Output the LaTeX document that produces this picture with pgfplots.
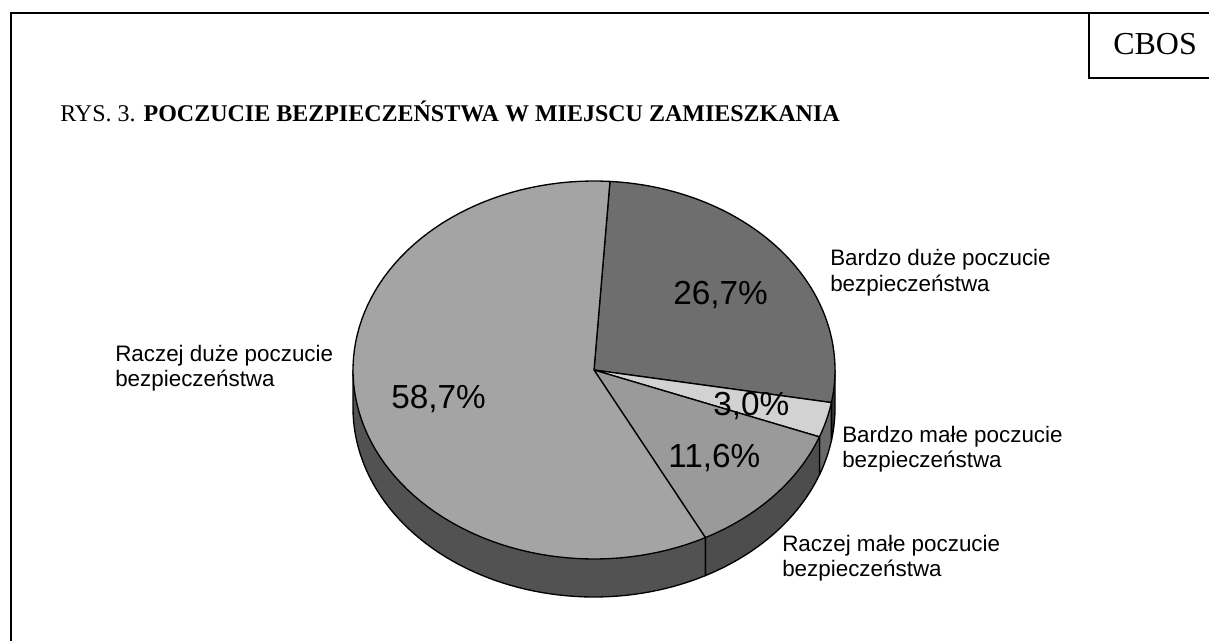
\documentclass[border=0pt]{standalone}
\usepackage{fontspec}
\setmainfont{Liberation Serif}
\newfontfamily\arialfont{Liberation Sans}
\usepackage{pgfplots}
\usepackage{pgfplotstable}
\pgfplotsset{compat=1.18}

% shares in percent, clockwise from the first slice
\pgfplotstableread{
share
26.7
3.0
11.6
58.7
}\piedata

\definecolor{topA}{HTML}{6E6E6E}
\definecolor{topB}{HTML}{D2D2D2}
\definecolor{topC}{HTML}{9A9A9A}
\definecolor{topD}{HTML}{A4A4A4}
\definecolor{sideA}{HTML}{373737}
\definecolor{sideB}{HTML}{696969}
\definecolor{sideC}{HTML}{4D4D4D}
\definecolor{sideD}{HTML}{525252}

% picture in pixel units of the reference: 1 px = 0.75 pt
\def\cx{594}\def\cy{370}\def\rx{241}\def\ry{189}\def\depth{38}

% cumulative angles, clockwise from twelve o'clock
\pgfmathsetmacro{\angO}{3.8}
\pgfplotstablegetelem{0}{share}\of\piedata
\pgfmathsetmacro{\angA}{\angO+3.6*\pgfplotsretval}
\pgfplotstablegetelem{1}{share}\of\piedata
\pgfmathsetmacro{\angB}{\angA+3.6*\pgfplotsretval}
\pgfplotstablegetelem{2}{share}\of\piedata
\pgfmathsetmacro{\angC}{\angB+3.6*\pgfplotsretval}
\pgfplotstablegetelem{3}{share}\of\piedata
\pgfmathsetmacro{\angD}{\angC+3.6*\pgfplotsretval}

% top face of a slice: #1 start, #2 end, #3 colour
\newcommand{\topslice}[3]{%
  \addplot[draw=black, fill=#3, line width=1pt, line join=round, domain=#1:#2, samples=90, variable=\t]
    ({\cx+\rx*sin(\t)},{\cy-\ry*cos(\t)}) -- (axis cs:\cx,\cy) -- cycle;
}
% front wall of a slice; the top face is painted over its upper part
\newcommand{\wall}[3]{%
  \pgfmathsetmacro{\xa}{\cx+\rx*sin(#1)}\pgfmathsetmacro{\ya}{\cy-\ry*cos(#1)}%
  \pgfmathsetmacro{\xb}{\cx+\rx*sin(#2)}\pgfmathsetmacro{\yb}{\cy-\ry*cos(#2)}%
  \edef\doit{\noexpand\addplot[draw=black, fill=#3, line width=1pt, line join=round, domain=#1:#2, samples=60, variable=\noexpand\t]
    ({\cx+\rx*sin(\noexpand\t)},{\cy+\depth-\ry*cos(\noexpand\t)}) -- (axis cs:\xb,\yb) -- (axis cs:\cx,\cy) -- (axis cs:\xa,\ya) -- cycle;}%
  \doit
}
\newcommand{\lab}[4]{%
  \node[anchor=base west, inner sep=0pt, font=\arialfont\fontsize{16.8pt}{20pt}\selectfont] at (axis cs:#1,#2) {#3};
  \node[anchor=base west, inner sep=0pt, font=\arialfont\fontsize{16.8pt}{20pt}\selectfont] at (axis cs:#1,#2+25.5) {#4};
}

\begin{document}
\begin{tikzpicture}
\path[use as bounding box] (0,0) rectangle (906.75pt,480.75pt);
\begin{axis}[
  at={(0,0)}, anchor=south west,
  scale only axis, width=906.75pt, height=480.75pt,
  xmin=0, xmax=1209, ymin=0, ymax=641, y dir=reverse,
  hide axis, clip=false,
]
% walls, back to front
\wall{90}{\angA}{sideA}
\wall{\angA}{\angB}{sideB}
\wall{\angB}{\angC}{sideC}
\wall{\angC}{270}{sideD}
% top faces
\topslice{\angO}{\angA}{topA}
\topslice{\angA}{\angB}{topB}
\topslice{\angB}{\angC}{topC}
\topslice{\angC}{\angD}{topD}

% percentages
\node[font=\arialfont\fontsize{25pt}{30pt}\selectfont, anchor=base west, inner sep=0pt] at (axis cs:673,305) {26,7\%};
\node[font=\arialfont\fontsize{25pt}{30pt}\selectfont, anchor=base west, inner sep=0pt] at (axis cs:713,415) {3,0\%};
\node[font=\arialfont\fontsize{25pt}{30pt}\selectfont, anchor=base west, inner sep=0pt] at (axis cs:668,467) {11,6\%};
\node[font=\arialfont\fontsize{25pt}{30pt}\selectfont, anchor=base west, inner sep=0pt] at (axis cs:391,408) {58,7\%};

% slice names
\lab{830}{266}{Bardzo duże poczucie}{bezpieczeństwa}
\lab{842}{442}{Bardzo małe poczucie}{bezpieczeństwa}
\lab{782}{551}{Raczej małe poczucie}{bezpieczeństwa}
\lab{115}{361}{Raczej duże poczucie}{bezpieczeństwa}

% frame and header
\draw[line width=1.5pt] (axis cs:11,641) -- (axis cs:11,13) -- (axis cs:1209,13);
\draw[line width=1.5pt] (axis cs:1089,13) -- (axis cs:1089,78) -- (axis cs:1209,78);
\node[anchor=base west, inner sep=0pt, font=\fontsize{24pt}{28pt}\selectfont] at (axis cs:1113,55) {CBOS};
\node[anchor=base west, inner sep=0pt, font=\fontsize{18pt}{21pt}\selectfont] at (axis cs:60,122) {RYS. 3. \textbf{POCZUCIE BEZPIECZEŃSTWA W MIEJSCU ZAMIESZKANIA}};
\end{axis}
\end{tikzpicture}
\end{document}
